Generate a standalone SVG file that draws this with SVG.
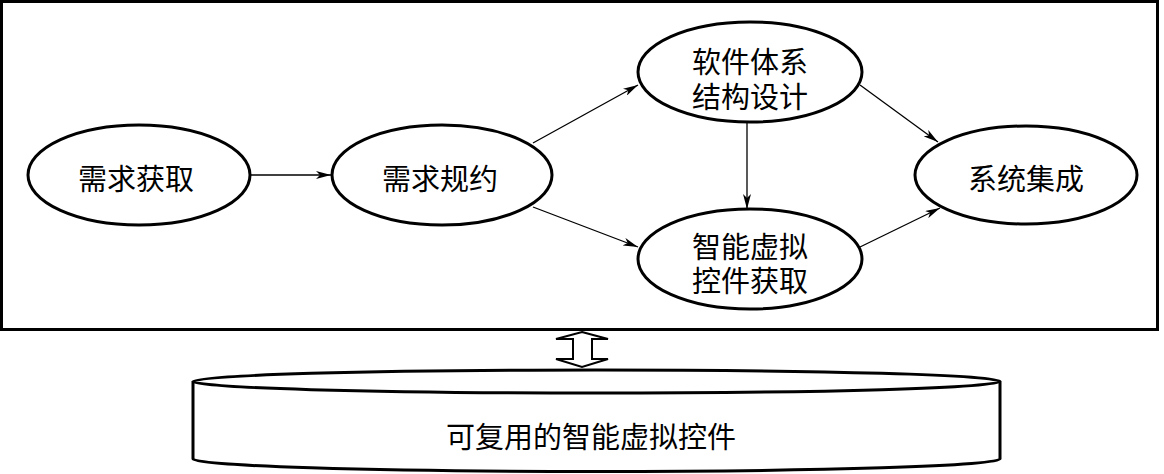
<svg xmlns="http://www.w3.org/2000/svg" width="1164" height="474" viewBox="0 0 1164 474">
<style>
.node{fill:#fff;stroke:#000;stroke-width:3}
.lbl{font-family:"Noto Sans CJK SC","Noto Sans",sans-serif;font-size:29px;fill:#000;text-anchor:middle;dominant-baseline:central}
.edge{stroke:#000;stroke-width:1.3;fill:none;marker-end:url(#ah)}
</style>
<defs>
<marker id="ah" markerWidth="16" markerHeight="8" refX="15" refY="4" orient="auto" markerUnits="userSpaceOnUse">
<path d="M0,0 L15,4 L0,8 L4,4 Z" fill="#000"/>
</marker>
</defs>
<rect width="1164" height="474" fill="#fff"/>
<rect x="1.5" y="1.5" width="1156" height="328" fill="none" stroke="#000" stroke-width="3"/>
<g id="connectors">
<line class="edge" x1="250" y1="175" x2="331" y2="175"/>
<line class="edge" x1="533" y1="143" x2="638" y2="85"/>
<line class="edge" x1="533" y1="207" x2="638" y2="247"/>
<line class="edge" x1="747" y1="122" x2="747" y2="209"/>
<line class="edge" x1="860" y1="85" x2="938" y2="142"/>
<line class="edge" x1="860" y1="247" x2="940" y2="208"/>
<polygon points="582,332 608,339 592,339 592,359 608,359 582,367 556,359 573,359 573,339 556,339" fill="#fff" stroke="#000" stroke-width="2" stroke-linejoin="miter"/>
</g>
<g id="n1"><ellipse class="node" cx="139" cy="175" rx="111" ry="50"/><text class="lbl" x="136" y="177">需求获取</text></g>
<g id="n2"><ellipse class="node" cx="442" cy="175" rx="110" ry="50"/><text class="lbl" x="440" y="177">需求规约</text></g>
<g id="n3"><ellipse class="node" cx="750" cy="72" rx="112" ry="50"/><text class="lbl" x="750" y="60">软件体系</text><text class="lbl" x="750" y="95">结构设计</text></g>
<g id="n4"><ellipse class="node" cx="750" cy="259" rx="112" ry="50"/><text class="lbl" x="750" y="245">智能虚拟</text><text class="lbl" x="750" y="279">控件获取</text></g>
<g id="n5"><ellipse class="node" cx="1026" cy="175" rx="111" ry="49"/><text class="lbl" x="1026" y="177">系统集成</text></g>
<g id="store">
<path d="M193,381.5 L193,459 A403.5,12.5 0 0 0 1000,459 L1000,381.5" fill="#fff" stroke="#000" stroke-width="3"/>
<ellipse cx="596.5" cy="381.5" rx="403.5" ry="11.5" fill="#fff" stroke="#000" stroke-width="3"/>
<text class="lbl" x="591" y="435">可复用的智能虚拟控件</text>
</g>
</svg>
